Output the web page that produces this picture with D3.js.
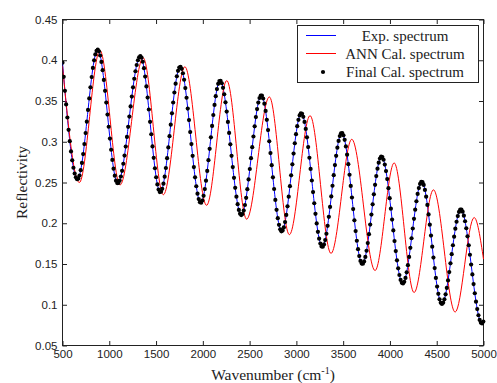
<!DOCTYPE html>
<html>
<head>
<meta charset="utf-8">
<script src="https://cdn.jsdelivr.net/npm/d3@7"></script>
<style>
  body { margin: 0; background: #fff; }
  .tick text { font-family: "Liberation Sans", Arial, sans-serif; font-size: 11.5px; fill: #222; }
  .tick line { stroke: #222; }
</style>
</head>
<body>
<div id="chart"></div>
<script>
// Datos (máximos y mínimos de cada espectro)
const expWn = [500, 660, 876, 1090, 1332, 1545, 1758, 1978, 2184, 2412, 2625, 2843, 3052, 3277, 3485, 3705, 3910, 4137, 4340, 4555, 4758, 4983, 5000];
const expR  = [0.397, 0.254, 0.413, 0.249, 0.405, 0.238, 0.392, 0.225, 0.375, 0.210, 0.357, 0.190, 0.335, 0.171, 0.311, 0.150, 0.282, 0.126, 0.251, 0.101, 0.217, 0.077, 0.080];

const annWn = [500, 680, 900, 1115, 1362, 1578, 1808, 2040, 2256, 2468, 2711, 2925, 3146, 3370, 3592, 3841, 4045, 4258, 4465, 4697, 4900, 5000];
const annR  = [0.393, 0.250, 0.412, 0.247, 0.403, 0.235, 0.392, 0.222, 0.375, 0.205, 0.355, 0.186, 0.332, 0.163, 0.303, 0.142, 0.274, 0.115, 0.241, 0.091, 0.207, 0.156];

const finalWn = [500, 660, 876, 1090, 1332, 1545, 1758, 1978, 2184, 2412, 2625, 2843, 3052, 3277, 3485, 3705, 3910, 4137, 4340, 4555, 4758, 4983, 5000];
const finalR  = [0.397, 0.254, 0.413, 0.249, 0.405, 0.238, 0.392, 0.225, 0.375, 0.210, 0.357, 0.190, 0.335, 0.171, 0.311, 0.150, 0.282, 0.126, 0.251, 0.101, 0.217, 0.077, 0.080];
const markerStep = 13; // separación de los marcadores (cm-1)

const xTicks = [500, 1000, 1500, 2000, 2500, 3000, 3500, 4000, 4500, 5000];
const yTicks = [0.05, 0.1, 0.15, 0.2, 0.25, 0.3, 0.35, 0.4, 0.45];
const legendLabels = ["Exp. spectrum", "ANN Cal. spectrum", "Final Cal. spectrum"];

// Configuración del gráfico
const W = 497, H = 383;
const pLeft = 62.5, pRight = 483.5, pTop = 19.5, pBottom = 345.5;

const svg = d3.select("#chart").append("svg")
    .attr("width", W)
    .attr("height", H);

const x = d3.scaleLinear().domain([500, 5000]).range([pLeft, pRight]);
const y = d3.scaleLinear().domain([0.05, 0.45]).range([pBottom, pTop]);

svg.append("clipPath").attr("id", "clip")
    .append("rect")
    .attr("x", pLeft).attr("y", pTop - 3)
    .attr("width", pRight - pLeft + 3).attr("height", pBottom - pTop + 6);

// Ejes (marcas hacia dentro, como en MATLAB)
const fmt = d => String(d);
svg.append("g").attr("transform", `translate(0,${pBottom})`)
    .call(d3.axisBottom(x).tickValues(xTicks).tickFormat(fmt).tickSizeInner(-4.5).tickSizeOuter(0).tickPadding(4));
svg.append("g").attr("transform", `translate(0,${pTop})`)
    .call(d3.axisTop(x).tickValues(xTicks).tickFormat("").tickSizeInner(-4.5).tickSizeOuter(0));
svg.append("g").attr("transform", `translate(${pLeft},0)`)
    .call(d3.axisLeft(y).tickValues(yTicks).tickFormat(fmt).tickSizeInner(-4.5).tickSizeOuter(0).tickPadding(5));
svg.append("g").attr("transform", `translate(${pRight},0)`)
    .call(d3.axisRight(y).tickValues(yTicks).tickFormat("").tickSizeInner(-4.5).tickSizeOuter(0));
svg.selectAll(".domain").remove();

svg.append("rect")
    .attr("x", pLeft).attr("y", pTop)
    .attr("width", pRight - pLeft).attr("height", pBottom - pTop)
    .attr("fill", "none")
    .attr("stroke", "#222");

// Líneas
const line = d3.line()
    .x(d => x(d[0]))
    .y(d => y(d[1]))
    .curve(d3.curveMonotoneX);

const plot = svg.append("g").attr("clip-path", "url(#clip)");

plot.append("path")
    .datum(d3.zip(expWn, expR))
    .attr("d", line)
    .attr("fill", "none")
    .attr("stroke", "#0000ff")
    .attr("stroke-width", 1);

plot.append("path")
    .datum(d3.zip(annWn, annR))
    .attr("d", line)
    .attr("fill", "none")
    .attr("stroke", "#ff0000")
    .attr("stroke-width", 1);

// Marcadores del espectro final, colocados sobre su curva cada markerStep
const finalPath = plot.append("path")
    .datum(d3.zip(finalWn, finalR))
    .attr("d", line)
    .attr("fill", "none")
    .attr("stroke", "none");

const node = finalPath.node();
const total = node.getTotalLength();
function pointAtX(px) {
    let lo = 0, hi = total;
    for (let i = 0; i < 30; i++) {
        const mid = (lo + hi) / 2;
        if (node.getPointAtLength(mid).x < px) lo = mid; else hi = mid;
    }
    return node.getPointAtLength((lo + hi) / 2);
}

const markerWn = d3.range(500, 5001, markerStep);
plot.selectAll(".dot")
    .data(markerWn)
    .enter().append("circle")
    .attr("class", "dot")
    .attr("cx", d => x(d))
    .attr("cy", d => pointAtX(x(d)).y)
    .attr("r", 2.1)
    .attr("fill", "#000");

// Títulos de los ejes
svg.append("text")
    .attr("x", (pLeft + pRight) / 2)
    .attr("y", 380)
    .attr("text-anchor", "middle")
    .style("font-family", "'Liberation Serif', 'Times New Roman', serif")
    .style("font-size", "15.5px")
    .attr("fill", "#222")
    .html('Wavenumber (cm<tspan dy="-6" font-size="10px">-1</tspan><tspan dy="6">)</tspan>');

svg.append("text")
    .attr("transform", `translate(27,${(pTop + pBottom) / 2}) rotate(-90)`)
    .attr("text-anchor", "middle")
    .style("font-family", "'Liberation Serif', 'Times New Roman', serif")
    .style("font-size", "15.5px")
    .attr("fill", "#222")
    .text("Reflectivity");

// Leyenda
const lg = svg.append("g");
lg.append("rect")
    .attr("x", 297.5).attr("y", 25.5)
    .attr("width", 181).attr("height", 57)
    .attr("fill", "#fff")
    .attr("stroke", "#222");

const rowsY = [35.5, 53.5, 72];
lg.append("line").attr("x1", 306).attr("x2", 336).attr("y1", rowsY[0]).attr("y2", rowsY[0]).attr("stroke", "#0000ff");
lg.append("line").attr("x1", 306).attr("x2", 336).attr("y1", rowsY[1]).attr("y2", rowsY[1]).attr("stroke", "#ff0000");
lg.append("circle").attr("cx", 323).attr("cy", rowsY[2]).attr("r", 2.1).attr("fill", "#000");

lg.selectAll(".leg-text")
    .data(legendLabels)
    .enter().append("text")
    .attr("class", "leg-text")
    .attr("x", 405)
    .attr("y", (d, i) => rowsY[i])
    .attr("dy", "0.35em")
    .attr("text-anchor", "middle")
    .style("font-family", "'Liberation Serif', 'Times New Roman', serif")
    .style("font-size", "15px")
    .attr("fill", "#222")
    .text(d => d);
</script>
</body>
</html>
